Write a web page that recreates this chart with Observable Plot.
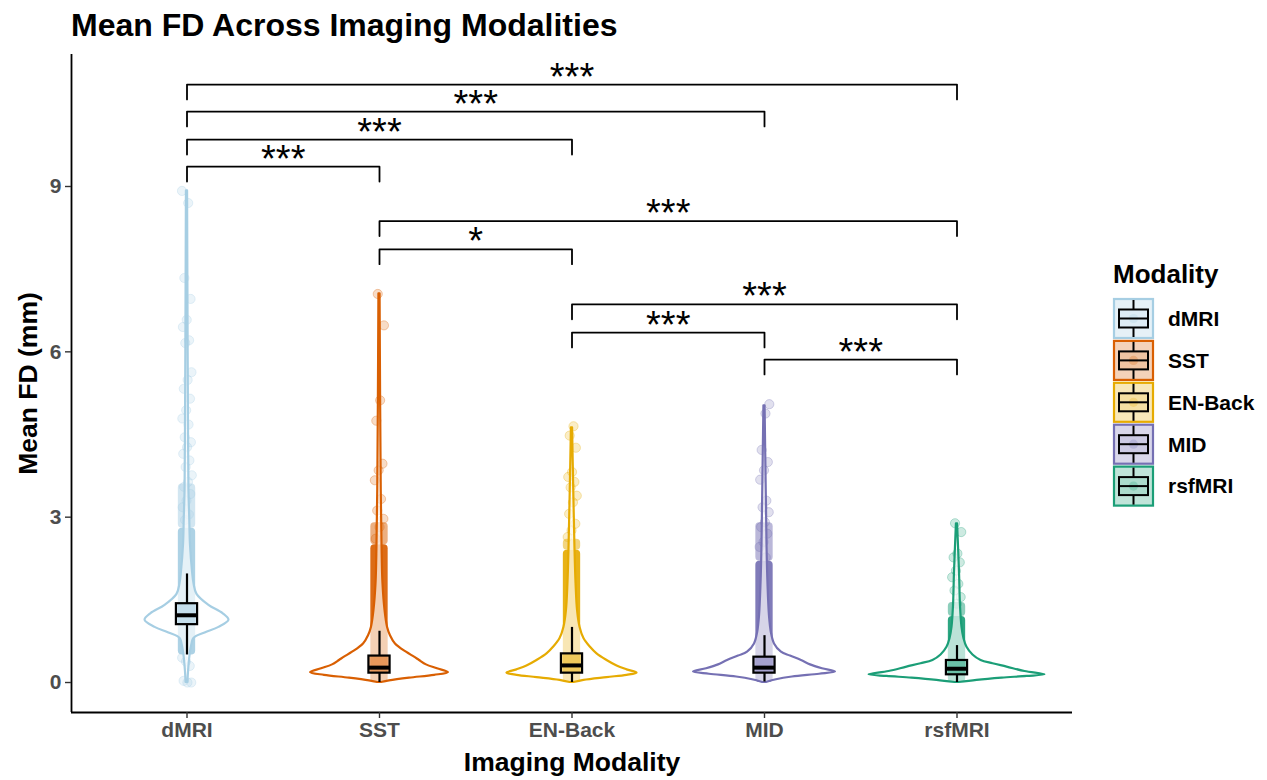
<!DOCTYPE html>
<html>
<head>
<meta charset="utf-8">
<script src="https://cdn.jsdelivr.net/npm/d3@7"></script>
<script src="https://cdn.jsdelivr.net/npm/@observablehq/plot@0.6"></script>
<style>
  body { margin: 0; background: #fff; font-family: "Liberation Sans", Arial, sans-serif; }
  #wrap { position: relative; width: 1267px; height: 780px; overflow: hidden; background: #fff; }
  #title { position: absolute; left: 71px; top: 9px; font-size: 32px; line-height: 32px; font-weight: bold; color: #000; white-space: nowrap; }
  #chart { position: absolute; left: 0; top: 48px; }
  #legend { position: absolute; left: 1100px; top: 250px; }
  #chart g[aria-label="y-axis tick label"], #chart g[aria-label="x-axis tick label"] { font-weight: bold; fill: #4d4d4d; }
  #chart g[aria-label="y-axis tick"], #chart g[aria-label="x-axis tick"] { stroke: #333; stroke-width: 1.4; }
</style>
</head>
<body>
<div id="wrap">
  <div id="title">Mean FD Across Imaging Modalities</div>
  <div id="chart"></div>
  <div id="legend"></div>
</div>
<script>
// ---------- data ----------
const modalities = ["dMRI", "SST", "EN-Back", "MID", "rsfMRI"];
const modalityColors = ["#a6cee3", "#d95f02", "#e6ab02", "#7570b3", "#1b9e77"];
const yTicks = [0, 3, 6, 9];

// boxplot statistics (mm)
const whiskerLow  = [0.50, 0.00, 0.00, 0.01, 0.00];
const quartile1   = [1.05, 0.17, 0.17, 0.17, 0.14];
const medians     = [1.22, 0.27, 0.31, 0.27, 0.25];
const quartile3   = [1.43, 0.48, 0.52, 0.46, 0.40];
const whiskerHigh = [1.97, 0.93, 1.00, 0.85, 0.67];

// violin profiles: [mean FD, half-width in category units]
const violinDMRI = [[0,0.005],[0.2,0.008],[0.5,0.016],[0.7,0.026],[0.8,0.036],[0.9,0.094],[1.0,0.166],[1.13,0.218],[1.25,0.187],[1.4,0.114],[1.6,0.052],[1.8,0.036],[2.0,0.029],[2.5,0.018],[3.0,0.014],[3.5,0.010],[4.5,0.008],[6.0,0.006],[8.92,0.003]];
const violinSST = [[0,0.010],[0.03,0.052],[0.08,0.156],[0.13,0.286],[0.18,0.358],[0.25,0.301],[0.32,0.244],[0.4,0.208],[0.46,0.182],[0.55,0.140],[0.7,0.083],[0.85,0.057],[1.0,0.042],[1.3,0.029],[1.8,0.018],[2.5,0.013],[3.5,0.009],[5.0,0.006],[7.05,0.003]];
const violinENBack = [[0,0.010],[0.04,0.062],[0.09,0.182],[0.13,0.286],[0.17,0.338],[0.23,0.286],[0.3,0.234],[0.4,0.182],[0.52,0.130],[0.64,0.096],[0.8,0.062],[1.0,0.042],[1.3,0.029],[1.8,0.021],[2.5,0.015],[3.5,0.009],[4.62,0.003]];
const violinMID = [[0,0.010],[0.05,0.062],[0.1,0.145],[0.15,0.286],[0.19,0.369],[0.25,0.301],[0.32,0.239],[0.4,0.192],[0.48,0.135],[0.55,0.088],[0.7,0.052],[0.9,0.036],[1.2,0.026],[1.8,0.018],[2.5,0.013],[3.5,0.009],[5.02,0.003]];
const violinRSF = [[0,0.010],[0.04,0.104],[0.08,0.234],[0.11,0.364],[0.14,0.457],[0.2,0.353],[0.28,0.260],[0.34,0.187],[0.4,0.125],[0.5,0.083],[0.64,0.052],[0.8,0.036],[1.0,0.026],[1.4,0.018],[2.0,0.013],[2.88,0.003]];
const violins = [violinDMRI, violinSST, violinENBack, violinMID, violinRSF];

// ranges where jittered points overlap into a solid band
const denseLow   = [0.50, 0.00, 0.00, 0.00, 0.00];
const denseHigh  = [2.80, 2.50, 2.40, 2.20, 1.20];
const sparseHigh = [3.60, 2.90, 2.60, 2.90, 1.45];

// individual visible observations (tails)
const pointsDMRI = [8.92,8.70,7.34,6.96,6.58,6.45,6.21,6.16,5.63,5.49,5.33,5.15,4.94,4.79,4.68,4.45,4.36,4.27,4.15,4.03,3.91,3.76,3.64,3.55,3.42,3.30,3.18,3.05,2.95,0.00,0.00,0.03,0.30,0.38,0.45];
const pointsSST = [7.05,6.48,5.12,4.75,3.97,3.85,3.67,3.33,3.12,2.97,2.82,2.61];
const pointsENBack = [4.65,4.48,4.26,3.82,3.73,3.64,3.54,3.39,3.27,3.06,2.88,2.76,2.64];
const pointsMID = [5.05,4.88,4.22,4.00,3.85,3.68,3.30,3.18,3.09,2.91,2.82,2.70,2.55,2.46,2.27];
const pointsRSF = [2.89,2.73,2.34,2.27,2.18,2.03,1.91,1.79,1.67,1.55,1.43];
const points = [pointsDMRI, pointsSST, pointsENBack, pointsMID, pointsRSF];

// significance brackets
const bracketFrom  = ["dMRI","dMRI","dMRI","dMRI","SST","SST","EN-Back","EN-Back","MID"];
const bracketTo    = ["SST","EN-Back","MID","rsfMRI","rsfMRI","EN-Back","rsfMRI","MID","rsfMRI"];
const bracketY     = [9.36, 9.85, 10.36, 10.85, 8.37, 7.86, 6.86, 6.35, 5.86];
const bracketLabel = ["***","***","***","***","***","*","***","***","***"];

// ---------- layout / styling constants ----------
const X_DOMAIN = [0.4, 5.6];
const Y_DOMAIN = [-0.544, 11.395];
const BOX_HALF = 0.055;
const BAND_HALF = 0.045;
const JITTER = 0.026;
const TIP = 0.27;

const pos = m => modalities.indexOf(m) + 1;
const jitter = j => (((j * 0.6180339887) % 1) - 0.5) * 2 * JITTER;

const marks = [];

// axis lines
marks.push(Plot.ruleX([X_DOMAIN[0]], {stroke: "#000", strokeWidth: 1.8}));
marks.push(Plot.ruleY([Y_DOMAIN[0]], {stroke: "#000", strokeWidth: 1.8}));

modalities.forEach((m, k) => {
  const i = k + 1;
  const color = modalityColors[k];
  // band of overlapping points
  marks.push(Plot.rect([{lo: denseHigh[k], hi: sparseHigh[k]}], {
    x1: () => i - BAND_HALF, x2: () => i + BAND_HALF, y1: "lo", y2: "hi",
    fill: color, fillOpacity: 0.5, rx: 4
  }));
  marks.push(Plot.rect([{lo: denseLow[k], hi: denseHigh[k]}], {
    x1: () => i - BAND_HALF, x2: () => i + BAND_HALF, y1: "lo", y2: "hi",
    fill: color, fillOpacity: 0.92, rx: 4
  }));
  // jittered individual points
  marks.push(Plot.dot(points[k], {
    x: (d, j) => i + jitter(j + k * 7), y: d => d, r: 4.6,
    fill: color, fillOpacity: 0.22, stroke: color, strokeOpacity: 0.3, strokeWidth: 1
  }));
  // violin
  marks.push(Plot.areaX(violins[k], {
    y: d => d[0], x1: d => i - d[1], x2: d => i + d[1],
    curve: "catmull-rom", fill: "white", fillOpacity: 0.68,
    stroke: color, strokeWidth: 2.2, strokeLinejoin: "round"
  }));
  // boxplot
  const stat = [{i, wl: whiskerLow[k], q1: quartile1[k], md: medians[k], q3: quartile3[k], wh: whiskerHigh[k]}];
  marks.push(Plot.ruleX(stat, {x: "i", y1: "wl", y2: "q1", stroke: "#000", strokeWidth: 2.2}));
  marks.push(Plot.ruleX(stat, {x: "i", y1: "q3", y2: "wh", stroke: "#000", strokeWidth: 2.2}));
  marks.push(Plot.rect(stat, {
    x1: d => d.i - BOX_HALF, x2: d => d.i + BOX_HALF, y1: "q1", y2: "q3",
    fill: color, fillOpacity: 0.5, stroke: "#000", strokeWidth: 2.2
  }));
  marks.push(Plot.ruleY(stat, {y: "md", x1: d => d.i - BOX_HALF, x2: d => d.i + BOX_HALF, stroke: "#000", strokeWidth: 4}));
});

// significance brackets
const brackets = bracketY.map((y, b) => ({b, x1: pos(bracketFrom[b]), x2: pos(bracketTo[b]), y, label: bracketLabel[b]}));
const bracketPath = brackets.flatMap(d => [
  {b: d.b, x: d.x1, y: d.y - TIP},
  {b: d.b, x: d.x1, y: d.y},
  {b: d.b, x: d.x2, y: d.y},
  {b: d.b, x: d.x2, y: d.y - TIP}
]);
marks.push(Plot.line(bracketPath, {x: "x", y: "y", z: "b", stroke: "#000", strokeWidth: 1.8}));
marks.push(Plot.text(brackets, {
  x: d => (d.x1 + d.x2) / 2, y: "y", text: "label",
  fontSize: 38, lineAnchor: "bottom", dy: 5, fill: "#000"
}));

// axes
marks.push(Plot.axisY(yTicks, {tickFormat: d => String(d), tickSize: 6, tickPadding: 4, fontSize: 21}));
marks.push(Plot.axisX([1, 2, 3, 4, 5], {tickFormat: d => modalities[d - 1], tickSize: 6, tickPadding: 4, fontSize: 21}));
marks.push(Plot.text(["Mean FD (mm)"], {frameAnchor: "left", textAnchor: "middle", dx: -43, rotate: -90, fontSize: 26.5, fontWeight: "bold", fill: "#000"}));
marks.push(Plot.text(["Imaging Modality"], {frameAnchor: "bottom", dy: 58, fontSize: 26.5, fontWeight: "bold", fill: "#000"}));

const chart = Plot.plot({
  width: 1267,
  height: 732,
  marginLeft: 71,
  marginRight: 195,
  marginTop: 6,
  marginBottom: 68,
  style: {fontFamily: "'Liberation Sans', Arial, sans-serif", background: "transparent", overflow: "visible"},
  x: {type: "linear", domain: X_DOMAIN, axis: null},
  y: {type: "linear", domain: Y_DOMAIN, axis: null},
  marks
});
document.getElementById("chart").appendChild(chart);

// ---------- legend ----------
const lg = d3.select("#legend").append("svg")
  .attr("width", 167).attr("height", 270)
  .style("font-family", "'Liberation Sans', Arial, sans-serif");
lg.append("text").attr("x", 13).attr("y", 33)
  .attr("font-size", 26).attr("font-weight", "bold").attr("fill", "#000").text("Modality");
modalities.forEach((m, k) => {
  const color = modalityColors[k];
  const g = lg.append("g").attr("transform", `translate(13,${48 + k * 41.9})`);
  g.append("rect").attr("x", 1).attr("y", 1).attr("width", 39).attr("height", 39)
    .attr("fill", color).attr("fill-opacity", 0.28).attr("stroke", color).attr("stroke-width", 2.2);
  g.append("circle").attr("cx", 20.5).attr("cy", 20.5).attr("r", 4.6)
    .attr("fill", color).attr("fill-opacity", 0.25);
  g.append("line").attr("x1", 20.5).attr("x2", 20.5).attr("y1", 2).attr("y2", 11.5)
    .attr("stroke", "#000").attr("stroke-width", 2);
  g.append("line").attr("x1", 20.5).attr("x2", 20.5).attr("y1", 29.5).attr("y2", 39)
    .attr("stroke", "#000").attr("stroke-width", 2);
  g.append("rect").attr("x", 6).attr("y", 11.5).attr("width", 29).attr("height", 18)
    .attr("fill", color).attr("fill-opacity", 0.12).attr("stroke", "#000").attr("stroke-width", 2);
  g.append("line").attr("x1", 6).attr("x2", 35).attr("y1", 20.5).attr("y2", 20.5)
    .attr("stroke", "#000").attr("stroke-width", 2);
  g.append("text").attr("x", 55).attr("y", 20.5).attr("dy", "0.35em")
    .attr("font-size", 21).attr("font-weight", "bold").attr("fill", "#000").text(m);
});
</script>
</body>
</html>
